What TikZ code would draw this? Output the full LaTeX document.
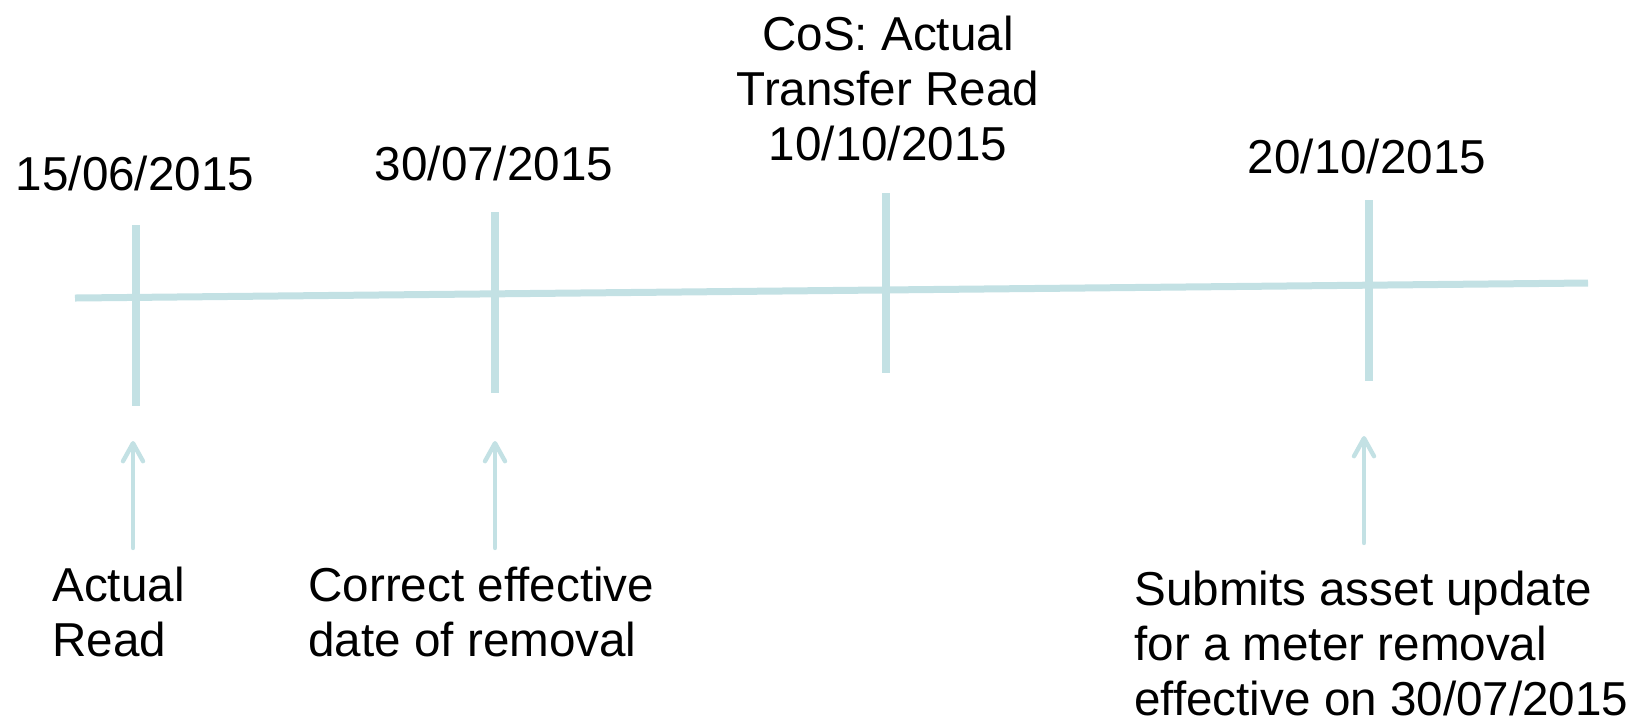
\documentclass[tikz,border=0pt]{standalone}
\usepackage{fontspec}
\setmainfont{Liberation Sans}
\usetikzlibrary{arrows.meta}
\definecolor{tlblue}{RGB}{195,225,228}
\tikzset{
  timeline/.style={draw=tlblue,line width=3.5pt},
  tickline/.style={draw=tlblue,line width=4pt},
  pointer/.style={draw=tlblue,line width=2.2pt,line cap=round,-{Straight Barb[length=9pt,width=10pt,round]}},
  lbl/.style={font=\fontsize{23.8}{27.5}\selectfont,inner sep=0pt,anchor=base}
}
\begin{document}
\begin{tikzpicture}[x=0.5pt,y=-0.5pt]
\useasboundingbox (0,0) rectangle (1639,720);
% time line
\node[] (a0) at (75,298) {};
\node[] (a1) at (1588,283) {};
\draw[timeline] (a0.center) -- (a1.center);
% ticks
\node[] (t1) at (136,225) {};
\node[] (b1) at (136,406) {};
\node[] (t2) at (495,212) {};
\node[] (b2) at (495,393) {};
\node[] (t3) at (886,193) {};
\node[] (b3) at (886,373) {};
\node[] (t4) at (1369,200) {};
\node[] (b4) at (1369,381) {};
\draw[tickline] (t1.center) -- (b1.center);
\draw[tickline] (t2.center) -- (b2.center);
\draw[tickline] (t3.center) -- (b3.center);
\draw[tickline] (t4.center) -- (b4.center);
% dates (multi-line nodes sit on their last line)
\node[lbl] (d1) at (135,190) {15/06/2015};
\node[lbl] (d2) at (494,180) {30/07/2015};
\node[lbl,align=center] (d3) at (888,160) {CoS: Actual\\Transfer Read\\10/10/2015};
\node[lbl] (d4) at (1367,173.5) {20/10/2015};
% notes
\node[lbl,anchor=base west,align=left] (c1) at (52,656) {Actual\\Read};
\node[lbl,anchor=base west,align=left] (c2) at (308,656) {Correct effective\\date of removal};
\node[lbl,anchor=base west,align=left] (c3) at (1134,715) {Submits asset update\\for a meter removal\\effective on 30/07/2015};
% pointers
\coordinate (p1) at (133,548);
\coordinate (q1) at (133,441);
\coordinate (p2) at (495,548);
\coordinate (q2) at (495,441);
\coordinate (p3) at (1364,543);
\coordinate (q3) at (1364,436);
\draw[pointer] (p1) -- (q1);
\draw[pointer] (p2) -- (q2);
\draw[pointer] (p3) -- (q3);
\end{tikzpicture}
\end{document}
